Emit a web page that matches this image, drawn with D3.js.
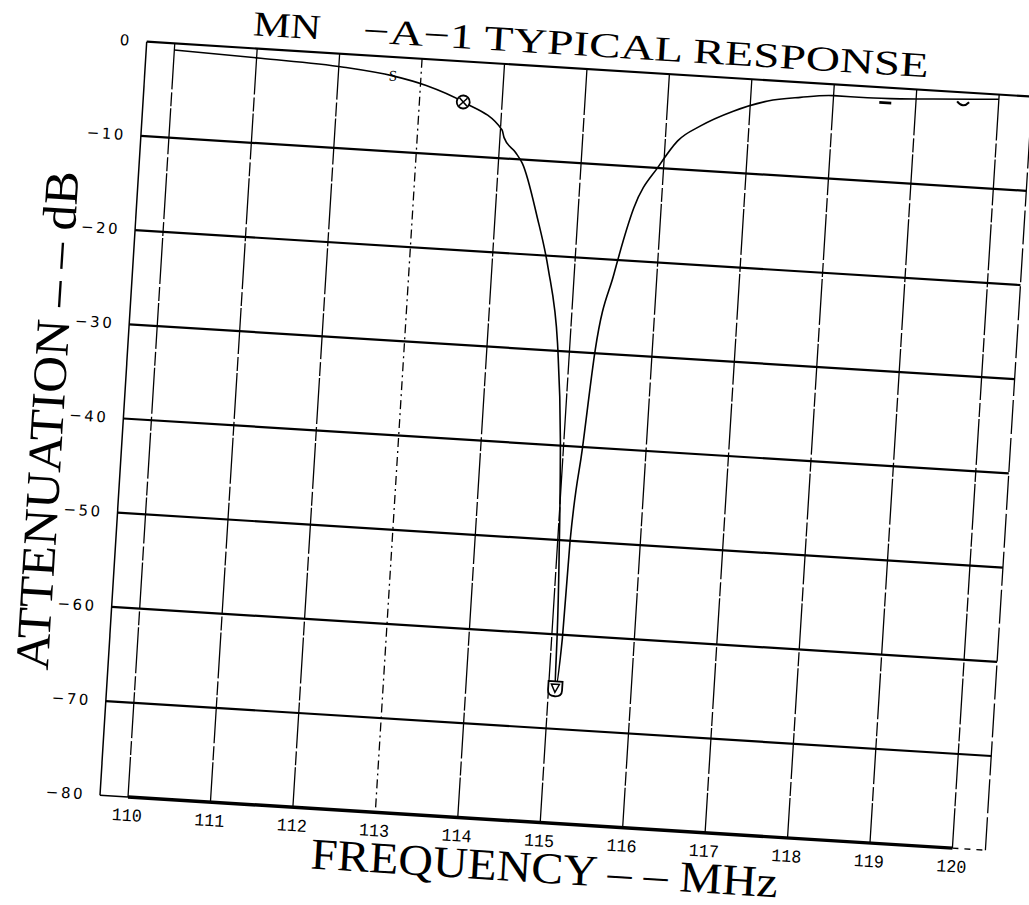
<!DOCTYPE html>
<html>
<head>
<meta charset="utf-8">
<script src="https://cdn.jsdelivr.net/npm/d3@7"></script>
<style>
  html, body { margin: 0; padding: 0; background: #fff; }
  svg { display: block; }
</style>
</head>
<body>
<div id="chart"></div>
<script>
// axis ticks
const freqTicks = [110, 111, 112, 113, 114, 115, 116, 117, 118, 119, 120];
const dbTicks = [0, -10, -20, -30, -40, -50, -60, -70, -80];

// response curve (MHz / dB)
const curveFreq = [110.0, 111.05, 112.06, 112.66, 113.07, 113.53, 114.02, 114.05, 114.2, 114.29,
                   114.51, 114.68, 114.85, 114.96, 115.02, 115.065, 115.08, 115.13, 115.15, 115.23,
                   115.31, 115.48, 115.67, 115.94, 116.15, 116.41, 116.8, 117.21, 117.6, 118.0,
                   118.41, 118.81, 119.21, 120.0];
const curveDb = [-0.7, -1.0, -1.4, -2.0, -2.8, -4.3, -7.0, -7.8, -9.3, -10.4,
                 -16.0, -21.3, -29.2, -39.8, -50.0, -60.3, -66.0, -60.3, -50.0, -40.1,
                 -29.7, -21.5, -14.4, -9.8, -7.0, -5.3, -3.5, -2.2, -1.6, -1.2,
                 -1.2, -1.1, -0.9, -0.5];

// plotted point symbols
const markerFreq = [112.66, 113.53, 115.08, 118.63, 119.57];
const markerDb = [-2.0, -4.3, -65.7, -1.5, -1.0];
const markerKind = ['s', 'cross', 'shield', 'dash', 'cup'];

const titleLeft = 'MN';
const titleRight = '\u2212A\u22121 TYPICAL RESPONSE';
const xTitle = 'FREQUENCY \u2013 \u2013 MHz';
const yTitle = 'ATTENUATION \u2013 \u2013 dB';

const frameLo = 109.66, frameHi = 120.4;   // box edges, in MHz

const svg = d3.select('#chart').append('svg')
    .attr('width', 1029)
    .attr('height', 905);

const x = d3.scaleLinear().domain([110, 120]).range([128, 954]);
const y = d3.scaleLinear().domain([-80, 0]).range([797, 42]);

// the scanned sheet sits a little crooked
const page = svg.append('g')
    .attr('transform', `rotate(3.55, ${x(110)}, ${y(-80)})`);

// horizontal rules
page.append('g')
    .selectAll('line')
    .data(dbTicks.filter(d => d !== -80))
    .enter()
    .append('line')
    .attr('x1', x(frameLo))
    .attr('x2', x(frameHi))
    .attr('y1', d => y(d))
    .attr('y2', d => y(d))
    .attr('stroke', '#000')
    .attr('stroke-width', 2.2);

// bottom rule: thin stub, heavy run, dashed tail
page.append('line')
    .attr('x1', x(frameLo)).attr('x2', x(110))
    .attr('y1', y(-80)).attr('y2', y(-80))
    .attr('stroke', '#000').attr('stroke-width', 1.5);
page.append('line')
    .attr('x1', x(110)).attr('x2', x(120))
    .attr('y1', y(-80)).attr('y2', y(-80))
    .attr('stroke', '#000').attr('stroke-width', 3.4);
page.append('line')
    .attr('x1', x(120)).attr('x2', x(frameHi))
    .attr('y1', y(-80)).attr('y2', y(-80))
    .attr('stroke', '#000').attr('stroke-width', 1.3)
    .attr('stroke-dasharray', '6,6');

// vertical grid
page.append('g')
    .selectAll('line')
    .data(freqTicks)
    .enter()
    .append('line')
    .attr('x1', d => x(d))
    .attr('x2', d => x(d))
    .attr('y1', y(0))
    .attr('y2', y(-80))
    .attr('stroke', '#000')
    .attr('stroke-width', 1.3)
    .attr('stroke-dasharray', d => d === 113 ? '9,4,2,4' : '46,3,14,2');

// outer frame sides
page.append('line')
    .attr('x1', x(frameLo)).attr('x2', x(frameLo))
    .attr('y1', y(0)).attr('y2', y(-80))
    .attr('stroke', '#000').attr('stroke-width', 1.5);
page.append('line')
    .attr('x1', x(frameHi)).attr('x2', x(frameHi))
    .attr('y1', y(0)).attr('y2', y(-80))
    .attr('stroke', '#000').attr('stroke-width', 1.3)
    .attr('stroke-dasharray', '34,4');

// y tick labels
page.append('g')
    .selectAll('text')
    .data(dbTicks)
    .enter()
    .append('text')
    .attr('x', x(frameLo) - 15)
    .attr('y', d => y(d) + 5)
    .attr('text-anchor', 'end')
    .style('font-family', '"DejaVu Sans", sans-serif')
    .style('font-size', '15px')
    .style('letter-spacing', '2.5px')
    .text(d => d === 0 ? '0' : '\u2212' + Math.abs(d));

// x tick labels
page.append('g')
    .selectAll('text')
    .data(freqTicks)
    .enter()
    .append('text')
    .attr('x', d => x(d) - 15)
    .attr('y', y(-80) + 24)
    .attr('textLength', 30)
    .attr('lengthAdjust', 'spacingAndGlyphs')
    .style('font-family', '"Liberation Mono", monospace')
    .style('font-size', '18px')
    .text(d => d);

// response curve
const pts = curveFreq.map((f, i) => ({f: f, db: curveDb[i]}));
const line = d3.line()
    .x(d => x(d.f))
    .y(d => y(d.db))
    .curve(d3.curveMonotoneX);
page.append('path')
    .datum(pts)
    .attr('d', line)
    .attr('fill', 'none')
    .attr('stroke', '#000')
    .attr('stroke-width', 1.6);

// point symbols
const marks = page.append('g')
    .selectAll('g')
    .data(markerFreq.map((f, i) => ({f: f, db: markerDb[i], kind: markerKind[i]})))
    .enter()
    .append('g')
    .attr('transform', d => `translate(${x(d.f)}, ${y(d.db)})`);

marks.each(function(d){
    let g = d3.select(this);
    if(d.kind === 's'){
        g.append('text')
            .attr('y', 5)
            .attr('text-anchor', 'middle')
            .style('font-family', '"Liberation Serif", serif')
            .style('font-size', '15px')
            .text('S');
    }else if(d.kind === 'cross'){
        g.append('circle').attr('r', 6.5)
            .attr('fill', '#fff').attr('stroke', '#000').attr('stroke-width', 1.8);
        g.append('path').attr('d', 'M-4,-4L4,4M4,-4L-4,4')
            .attr('stroke', '#000').attr('stroke-width', 1.6);
    }else if(d.kind === 'shield'){
        g.append('path').attr('d', 'M-7,-7H7V2Q7,8 0,8Q-7,8 -7,2Z')
            .attr('fill', '#fff').attr('stroke', '#000').attr('stroke-width', 1.8);
        g.append('path').attr('d', 'M-4,-4H4L0,4Z')
            .attr('fill', 'none').attr('stroke', '#000').attr('stroke-width', 1.5);
    }else if(d.kind === 'dash'){
        g.append('line').attr('x1', -6).attr('x2', 6).attr('y1', 1).attr('y2', 1)
            .attr('stroke', '#000').attr('stroke-width', 2.6);
    }else{
        g.append('path').attr('d', 'M-6,0Q0,7 6,0')
            .attr('fill', 'none').attr('stroke', '#000').attr('stroke-width', 2);
    }
});

// titles
const serif = '"Liberation Serif", "DejaVu Serif", serif';
page.append('text')
    .attr('x', 205).attr('y', 29)
    .attr('textLength', 68).attr('lengthAdjust', 'spacingAndGlyphs')
    .style('font-family', serif).style('font-size', '35px')
    .text(titleLeft);
page.append('text')
    .attr('x', 315).attr('y', 29)
    .attr('textLength', 567).attr('lengthAdjust', 'spacingAndGlyphs')
    .style('font-family', serif).style('font-size', '35px')
    .text(titleRight);

page.append('text')
    .attr('x', 314).attr('y', 857)
    .attr('textLength', 468).attr('lengthAdjust', 'spacingAndGlyphs')
    .style('font-family', serif).style('font-size', '44px')
    .text(xTitle);

page.append('text')
    .attr('transform', 'translate(40, 676) rotate(-90)')
    .attr('textLength', 500).attr('lengthAdjust', 'spacingAndGlyphs')
    .style('font-family', serif).style('font-size', '48px')
    .text(yTitle);
</script>
</body>
</html>
